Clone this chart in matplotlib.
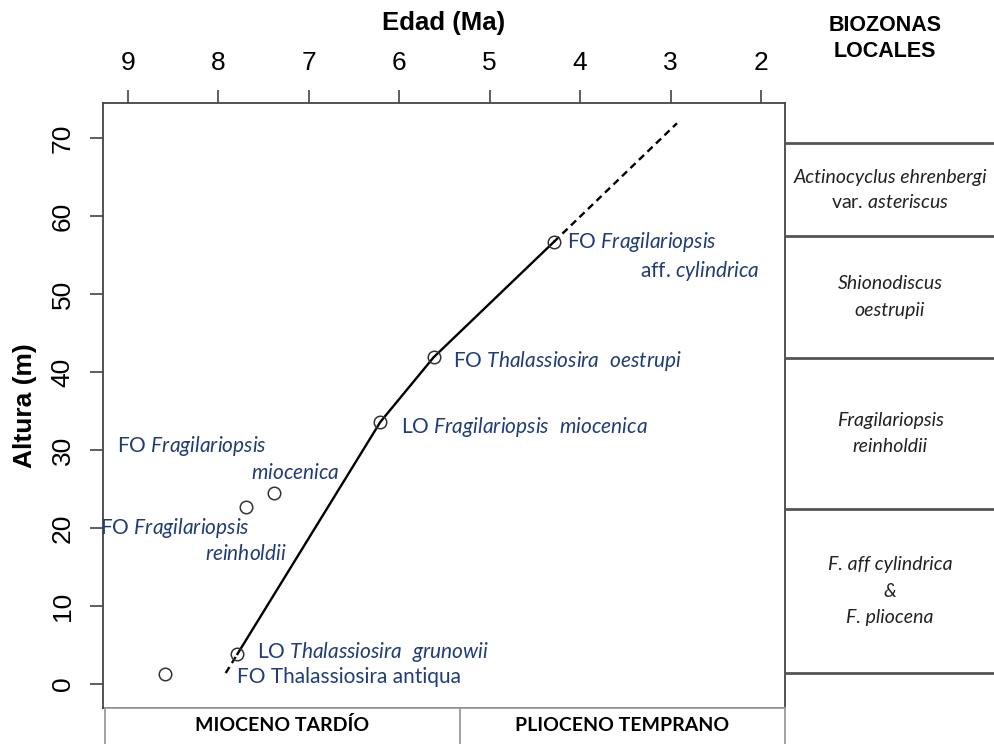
import numpy as np
import matplotlib
matplotlib.use("Agg")
import matplotlib.pyplot as plt

plt.rcParams["font.family"] = ["Liberation Sans", "DejaVu Sans"]
plt.rcParams["mathtext.fontset"] = "custom"
plt.rcParams["mathtext.rm"] = "Lato"
plt.rcParams["mathtext.it"] = "Lato:italic"

# datums (age in Ma, height in m)
ages = [4.29, 5.62, 6.21, 7.39, 7.70, 7.79, 8.59]
heights = [56.7, 41.9, 33.6, 24.5, 22.7, 3.85, 1.3]

# age model line
line_age = [7.79, 6.21, 5.62, 4.29]
line_h = [3.85, 33.6, 41.9, 56.7]
ext_low_age = [7.92, 7.79]
ext_low_h = [1.4, 3.85]
ext_up_age = [4.29, 2.93]
ext_up_h = [56.7, 71.9]

# biozone boundaries (m) and names, one list of lines per zone
zone_bounds = [69.4, 57.4, 41.8, 22.4, 1.4]
zone_names = [
    ["Actinocyclus ehrenbergi", "var. $asteriscus$"],
    ["Shionodiscus", "oestrupii"],
    ["Fragilariopsis", "reinholdii"],
    ["F. aff cylindrica", "&", "F. pliocena"],
]

# epochs
epoch_bounds = [9.25, 5.33, 1.735]
epoch_names = ["MIOCENO TARDÍO", "PLIOCENO TEMPRANO"]

BLUE = "#203d78"
labels = [
    (4.15, 56.7, "FO $Fragilariopsis$", "left"),
    (2.02, 52.9, "aff. $cylindrica$", "right"),
    (5.41, 41.4, "FO $Thalassiosira\\ \\ oestrupi$", "left"),
    (5.98, 32.9, "LO $Fragilariopsis\\ \\ miocenica$", "left"),
    (9.12, 30.5, "FO $Fragilariopsis$", "left"),
    (6.66, 27.1, "$miocenica$", "right"),
    (9.31, 20.0, "FO $Fragilariopsis$", "left"),
    (7.24, 16.7, "$reinholdii$", "right"),
    (7.57, 4.1, "LO $Thalassiosira\\ \\ grunowii$", "left"),
    (7.79, 0.9, "FO Thalassiosira antiqua", "left"),
]

W, H = 995, 744
fig = plt.figure(figsize=(W / 100, H / 100), dpi=100)
ax_l, ax_b, ax_w, ax_h = 103 / W, 1 - 708 / H, 682 / W, 605 / H
ax = fig.add_axes([ax_l, ax_b, ax_w, ax_h])
ax.set_xlim(9.277, 1.735)
ax.set_ylim(-3.08, 74.5)

ax.plot(line_age, line_h, color="black", lw=1.7)
ax.plot(ext_low_age, ext_low_h, color="black", lw=1.7, ls=(0, (3, 2)))
ax.plot(ext_up_age, ext_up_h, color="black", lw=1.7, ls=(0, (3, 2)))
ax.plot(ages, heights, "o", mfc="none", mec="#333333", ms=9, mew=1.1)

for x, y, s, ha in labels:
    ax.text(x, y, s, color=BLUE, fontsize=15, ha=ha, va="center",
            family="Lato", clip_on=False)

ax.xaxis.tick_top()
ax.set_xticks(range(9, 1, -1))
ax.set_yticks(range(0, 71, 10))
ax.tick_params(axis="both", labelsize=19, length=9.4, width=1.1, color="#333333", pad=11)
for lab in ax.get_yticklabels():
    lab.set_rotation(90)
    lab.set_va("center")
for sp in ax.spines.values():
    sp.set_color("#444444")
    sp.set_linewidth(1.3)
fig.text(ax_l + ax_w / 2, 1 - 23 / H, "Edad (Ma)", ha="center", va="center",
         fontsize=18.5, fontweight="bold")
fig.text(25 / W, 1 - 406 / H, "Altura (m)", ha="center", va="center",
         rotation=90, fontsize=19, fontweight="bold")

# epoch strip
ep = fig.add_axes([105 / W, 0, 680 / W, 36 / H])
ep.set_xlim(epoch_bounds[0], epoch_bounds[-1])
ep.set_ylim(0, 1)
ep.set_xticks([])
ep.set_yticks([])
ep.spines["bottom"].set_visible(False)
for sp in ep.spines.values():
    sp.set_color("#9a9a9a")
    sp.set_linewidth(1.3)
ep.axvline(epoch_bounds[1], color="#9a9a9a", lw=1.3)
for i, name in enumerate(epoch_names):
    ep.text((epoch_bounds[i] + epoch_bounds[i + 1]) / 2, 0.52, name,
            ha="center", va="center", fontsize=14, fontweight="bold", family="Lato")

# biozone column
bz = fig.add_axes([785 / W, ax_b, 210 / W, ax_h])
bz.set_ylim(ax.get_ylim())
bz.set_xlim(0, 1)
bz.axis("off")
for b in zone_bounds:
    bz.axhline(b, color="#555555", lw=2)
step = 19  # points between lines
for i, lines in enumerate(zone_names):
    mid = (zone_bounds[i] + zone_bounds[i + 1]) / 2
    n = len(lines)
    st = 17.5 if i == 0 else step
    for j, s in enumerate(lines):
        off = ((n - 1) / 2 - j) * st
        bz.annotate(s, (0.5, mid), xytext=(0, off), textcoords="offset points",
                    ha="center", va="center", fontsize=14, family="Lato",
                    style="normal" if "$" in s else "italic", color="#222222")
fig.text(885 / W, 1 - 38.5 / H, "BIOZONAS\nLOCALES", ha="center", va="center",
         fontsize=15.5, fontweight="bold", linespacing=1.3)

fig.savefig("out.png", dpi=100)
